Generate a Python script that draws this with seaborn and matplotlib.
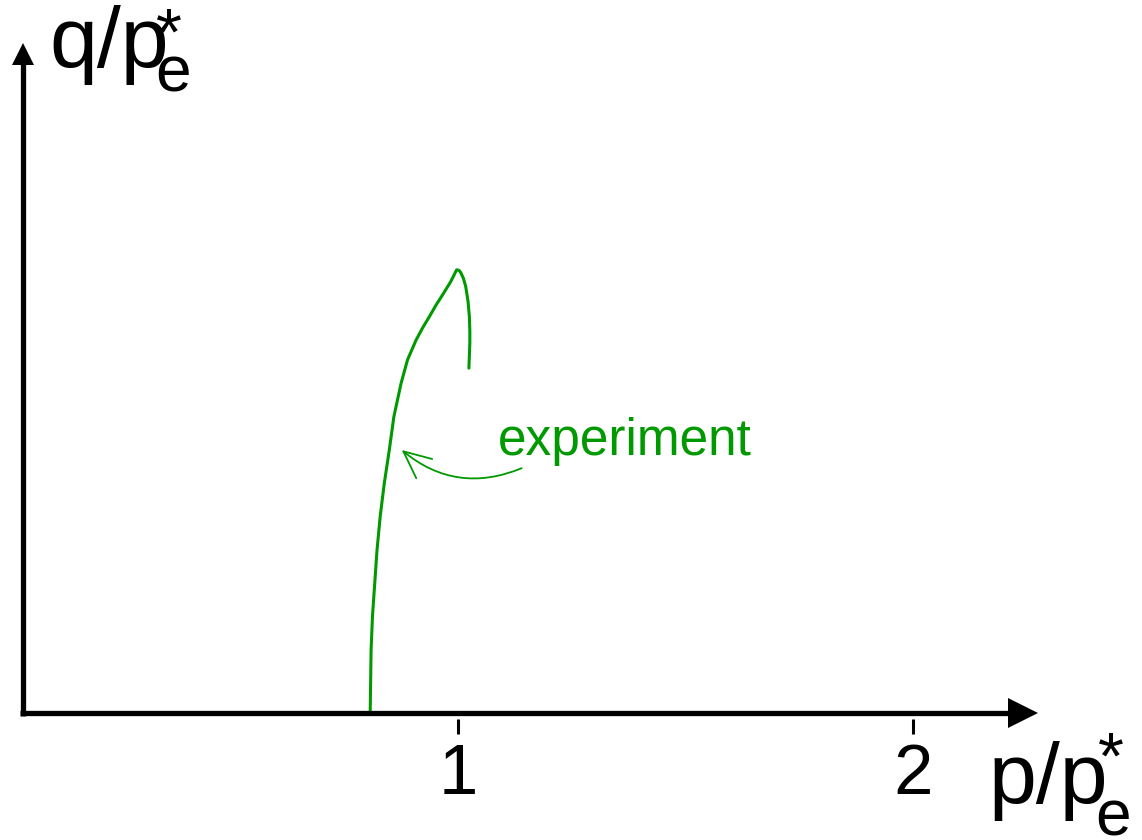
import matplotlib
matplotlib.use("Agg")
import matplotlib.pyplot as plt
import numpy as np
import pandas as pd
import seaborn as sns

# Measured stress path (normalised by equivalent pressure p_e*)
p_ratio = [0.807, 0.808, 0.809, 0.812, 0.817, 0.822, 0.829, 0.838, 0.849,
           0.859, 0.875, 0.889, 0.908, 0.922, 0.937, 0.952, 0.968, 0.984,
           0.997, 1.002, 1.006, 1.012, 1.017, 1.022, 1.025, 1.026, 1.026,
           1.024]
q_ratio = [0.000, 0.070, 0.139, 0.212, 0.285, 0.358, 0.432, 0.505, 0.578,
           0.651, 0.725, 0.776, 0.820, 0.846, 0.871, 0.897, 0.922, 0.948,
           0.974, 0.973, 0.968, 0.955, 0.937, 0.905, 0.871, 0.840, 0.813,
           0.758]

tick_values = [1, 2]
tick_labels = ["1", "2"]
series_label = "experiment"
x_label = ("p/p", "e", "*")
y_label = ("q/p", "e", "*")

GREEN = "#009900"

sns.set_theme(style="white")
plt.rcParams["font.family"] = ["Liberation Sans", "DejaVu Sans"]

W, H = 1142, 840
fig = plt.figure(figsize=(W / 100, H / 100), dpi=100)
ax = fig.add_axes([0, 0, 1, 1])

# one data unit = 455 px on both axes, origin near the lower-left corner
scale, x0px, y0px = 455.0, 3.0, 713.0
ax.set_xlim(-x0px / scale, (W - x0px) / scale)
ax.set_ylim(-(H - y0px) / scale, y0px / scale)

df = pd.DataFrame({"p": p_ratio, "q": q_ratio})
sns.lineplot(data=df, x="p", y="q", sort=False, estimator=None,
             color=GREEN, lw=2.2, ax=ax)
ax.lines[-1].set_solid_joinstyle("round")
ax.set_xlabel("")
ax.set_ylabel("")

# coordinate axes with filled arrow heads
ax_lw = 3.8
ax.plot([0.037, 2.213], [0, 0], color="black", lw=ax_lw, solid_capstyle="butt")
ax.plot([2.2418], [0], marker=">", ms=21.6, color="black", mew=0)
ax.plot([0.044, 0.044], [-0.0066, 1.4264], color="black", lw=ax_lw,
        solid_capstyle="butt")
ax.plot([0.044], [1.4484], marker="^", ms=15.8, color="black", mew=0)

# tick marks sit just below the p axis
for s in ax.spines.values():
    s.set_visible(False)
ax.spines["bottom"].set_position(("data", -0.0132))
ax.set_xticks(tick_values, tick_labels)
ax.set_yticks([])
ax.tick_params(axis="x", bottom=True, direction="out", length=10.8,
               width=2.2, pad=6.5, labelsize=51, colors="black")
ax.grid(False)

# curve annotation
ax.text(1.088, 0.567, series_label, color=GREEN, fontsize=37,
        ha="left", va="baseline")
ax.annotate("", xy=(0.8763, 0.578), xytext=(1.140, 0.538),
            arrowprops=dict(arrowstyle="->,head_length=19.5,head_width=9",
                            mutation_scale=1, lw=1.3, color=GREEN,
                            shrinkA=0, shrinkB=0,
                            connectionstyle="arc3,rad=-0.3"))


def ftext(x, y, s, size):
    fig.text(x / W, 1 - y / H, s, fontsize=size, ha="left", va="baseline",
             color="black")


# axis titles built from main text, subscript and superscript
ftext(49, 67, y_label[0], 62)
ftext(155, 92, y_label[1], 46)
ftext(156, 55, y_label[2], 48)

ftext(989, 803, x_label[0], 62)
ftext(1095, 836, x_label[1], 46)
ftext(1098, 779, x_label[2], 48)

fig.savefig("out.png", dpi=100, facecolor="white")
